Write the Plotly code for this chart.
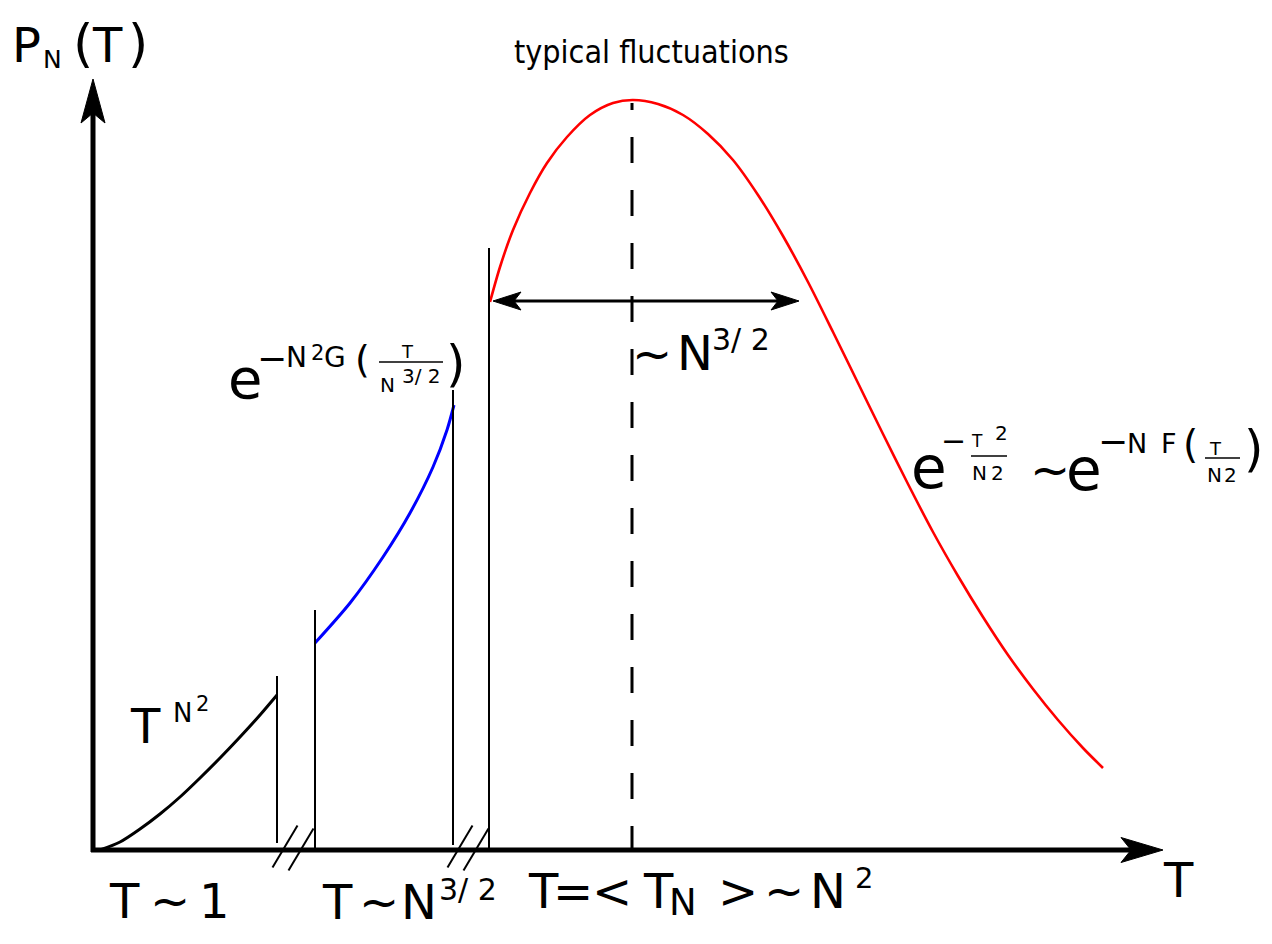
import plotly.graph_objects as go

W, H = 1272, 944
FONT = "DejaVu Sans"
COND = "DejaVu Sans Condensed, DejaVu Sans"

# ---- curves (pixel-like diagram units) ----
small_T = [100, 120, 140, 160, 180, 200, 220, 240, 260, 277]
small_P = [850, 842, 829, 814, 797, 778, 758, 737, 715, 695]

mid_T = [315, 350, 383, 410, 433, 447, 454]
mid_P = [643, 603, 557, 513, 467, 430, 405]

typ_T = [490, 500, 513, 530, 547, 567, 590, 613, 633, 658, 683, 708, 733, 758,
         783, 808, 833, 858, 883, 908, 933, 958, 983, 1008, 1033, 1058, 1083, 1103]
typ_P = [302, 267, 230, 193, 163, 137, 115, 103, 100, 104, 115, 134, 160, 195,
         236, 282, 332, 383, 434, 484, 532, 576, 617, 655, 689, 720, 748, 768]

# regime separators
sep_T = [277, 315, 453, 489]
sep_top = [676, 610, 390, 248]
sep_bot = [843, 850, 845, 850]

# axis geometry
origin = (93, 850)
x_tip = 1163
y_tip = 79
mean_T = 632
peak_P = 103
width_P = 301
width_T = [493, 799]

fig = go.Figure()
fig.add_trace(go.Scatter(x=small_T, y=small_P, mode="lines",
                         line=dict(color="black", width=3, shape="spline", smoothing=0.8),
                         hoverinfo="skip"))
fig.add_trace(go.Scatter(x=mid_T, y=mid_P, mode="lines",
                         line=dict(color="#0000ff", width=3, shape="spline", smoothing=0.8),
                         hoverinfo="skip"))
fig.add_trace(go.Scatter(x=typ_T, y=typ_P, mode="lines",
                         line=dict(color="#ff0000", width=2.6, shape="spline", smoothing=0.8),
                         hoverinfo="skip"))


def seg(x0, y0, x1, y1, w=2, dash=None):
    fig.add_shape(type="line", x0=x0, y0=y0, x1=x1, y1=y1, xref="x", yref="y",
                  line=dict(color="black", width=w, dash=dash))


def head(tx, ty, dx, dy, length, half, notch):
    # barbed arrowhead pointing along (dx, dy)
    bx, by = tx - dx * length, ty - dy * length
    px, py = -dy, dx
    nx, ny = tx - dx * (length - notch), ty - dy * (length - notch)
    path = (f"M{tx},{ty} L{bx + px * half},{by + py * half} "
            f"L{nx},{ny} L{bx - px * half},{by - py * half} Z")
    fig.add_shape(type="path", path=path, xref="x", yref="y",
                  fillcolor="black", line=dict(color="black", width=1))


# axes
seg(origin[0], origin[1] + 2, origin[0], y_tip + 30, w=5)
head(origin[0], y_tip, 0, -1, 44, 12, 10)
seg(origin[0] - 2, origin[1], x_tip - 30, origin[1], w=5)
head(x_tip, origin[1], 1, 0, 42, 12.5, 10)

# separators
for t, a, b in zip(sep_T, sep_top, sep_bot):
    seg(t, a, t, b, w=2)

# axis breaks
for c in [(sep_T[0] + sep_T[1]) / 2 - 3, (sep_T[2] + sep_T[3]) / 2 - 3]:
    for off in (-8, 8):
        seg(c + off - 12.5, 848 + 21 + off * 0.2, c + off + 12.5, 848 - 21 + off * 0.2, w=2)

# mean line
seg(mean_T, 852, mean_T, peak_P, w=3, dash="26px,27px")

# width double arrow
seg(width_T[0] + 15, width_P, width_T[1] - 15, width_P, w=3)
head(width_T[0], width_P, -1, 0, 28, 9, 7)
head(width_T[1], width_P, 1, 0, 28, 9, 7)

# fraction bars
for x0, x1, y in [(379, 443, 362), (971, 1007, 456), (1205, 1240, 458)]:
    seg(x0, y, x1, y, w=1.5)


def label(text, cx, base, size, color="black", family=FONT):
    fig.add_annotation(x=cx, y=base - 0.346 * size, xref="x", yref="y", text=text,
                       showarrow=False, xanchor="center", yanchor="middle", borderpad=0,
                       font=dict(family=family, size=size, color=color))


# y label  P_N(T)
label("P", 26, 62, 48)
label("N", 52.5, 68, 25)
label("(", 83, 61, 52)
label("T", 107.5, 62, 48)
label(")", 138, 61, 52)

# x label
label("T", 1178, 897, 48)

# top label
label("typical fluctuations", 651.5, 63, 32, family=COND)

# T^{N^2}
label("T", 145, 743, 48)
label("N", 182, 722, 26)
label("2", 202, 711, 21)

# blue label
label("e", 244.5, 398, 56)
label("\u2212", 272, 360 + 0.3 * 36, 36)
label("N", 296, 367, 28)
label("2", 317.5, 360, 21)
label("G", 335, 367, 28)
label("(", 362.5, 372, 38)
label("T", 407.5, 358, 18)
label("N", 387.5, 392, 20)
label("3/ 2", 421, 383, 20)
label(")", 456, 381, 50)

# ~N^{3/2}
label("~", 652, 371, 48)
label("N", 695, 370, 48)
label("3/ 2", 741, 350, 30)

# red label
label("e", 928.5, 488, 58)
label("\u2212", 953, 442 + 0.3 * 30, 30)
label("T", 977, 447, 17)
label("2", 1001, 440, 20)
label("N", 979.5, 480, 20)
label("2", 997.5, 480, 20)
label("~", 1050, 487, 48)
label("e", 1084, 490, 58)
label("\u2212", 1112.5, 443 + 0.3 * 36, 36)
label("N", 1137, 453, 27)
label("F", 1168.5, 453, 27)
label("(", 1190, 458, 39)
label("T", 1215, 455, 18)
label("N", 1214.5, 482, 20)
label("2", 1230, 482, 20)
label(")", 1253.5, 466, 50)

# bottom labels
label("T", 124.5, 918, 48)
label("~", 170, 918, 48)
label("1", 214, 918, 48)

label("T", 337, 919, 48)
label("~", 378.5, 919, 48)
label("N", 419, 919, 48)
label("3/ 2", 467.5, 900, 30)

label("T", 543, 908, 48)
label("=", 572.5, 908, 48)
label("<", 612, 908, 48)
label("T", 658, 908, 48)
label("N", 682.5, 915, 37)
label(">", 737.5, 908, 48)
label("~", 784, 908, 48)
label("N", 828, 908, 48)
label("2", 863.5, 888, 29)

fig.update_layout(
    width=W, height=H, margin=dict(l=0, r=0, t=0, b=0),
    paper_bgcolor="white", plot_bgcolor="white", showlegend=False,
    xaxis=dict(range=[0, W], visible=False, fixedrange=True),
    yaxis=dict(range=[H, 0], visible=False, fixedrange=True),
)

fig.write_html("out.html")
